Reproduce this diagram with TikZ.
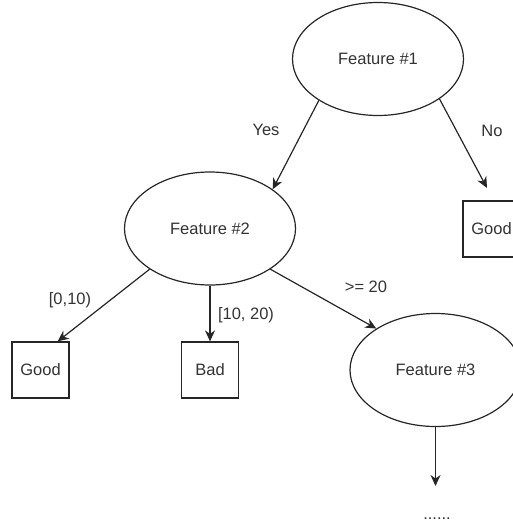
\documentclass[tikz,border=0pt]{standalone}
\usepackage{fontspec}
\setmainfont{Liberation Sans}
\usetikzlibrary{arrows.meta,shapes.geometric}
\begin{document}
\begin{tikzpicture}[x=1pt,y=-1pt,
  every node/.style={font=\fontsize{16.5}{19}\selectfont, text=black!80, inner sep=0pt},
  feat/.style={draw=black!85, line width=1.2pt, ellipse, minimum width=171pt, minimum height=113pt},
  leaf/.style={draw=black!85, line width=1.2pt, rectangle, minimum width=57pt, minimum height=56pt},
  edge/.style={draw=black!85, line width=1.2pt, -{Stealth[length=11pt,width=10pt,inset=3.5pt]}},
  lbl/.style={}]
\useasboundingbox (0,0) rectangle (513,527);
\clip (0,0) rectangle (513,527);
\node[feat] (f1) at (378,59) {Feature \#1};
\node[feat] (f2) at (210,228.5) {Feature \#2};
\node[feat] (f3) at (435.5,370) {Feature \#3};
\node[leaf] (g2) at (491.5,229) {Good};
\node[leaf] (g1) at (40.5,370) {Good};
\node[leaf] (bad) at (210,370) {Bad};
\coordinate (noend) at (487,188);
\coordinate (more) at (435.5,486);
\node (dots) at (437,519) {......};
\draw[edge] (f1.-145.7) -- (f2.32.8);
\draw[edge] (f1.-33.9) -- (noend);
\draw[edge] (f2.214.2) -- (g1.59.5);
\draw[edge] (f2.south) -- (bad.north);
\draw[edge] (f2.-34) -- (f3.145.9);
\draw[edge] (f3.south) -- (more);
\node[lbl] (lyes) at (266,130) {Yes};
\node[lbl] (lno) at (492,131) {No};
\node[lbl] (l1) at (70,300) {[0,10)};
\node[lbl] (l2) at (246,315) {[10, 20)};
\node[lbl] (l3) at (366,287) {>= 20};
\end{tikzpicture}
\end{document}
